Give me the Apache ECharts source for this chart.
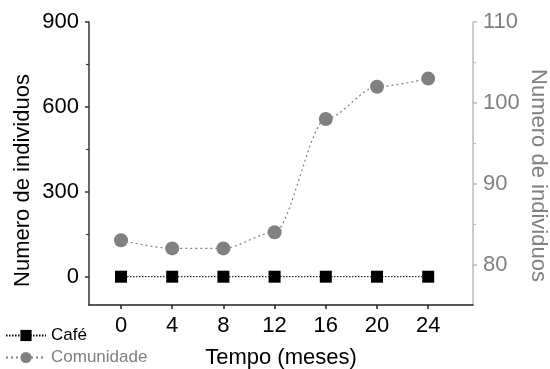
<!DOCTYPE html>
<html>
<head>
<meta charset="utf-8">
<script src="https://cdn.jsdelivr.net/npm/echarts@6/dist/echarts.min.js"></script>
<style>
  html, body { margin: 0; padding: 0; background: #fff; }
  #chart { width: 550px; height: 369px; }
</style>
</head>
<body>
<div id="chart"></div>
<script>
  // dados
  const meses = [0, 4, 8, 12, 16, 20, 24]
  const cafe = [0, 0, 0, 0, 0, 0, 0]
  const comunidade = [83, 82, 82, 84, 98, 102, 103]
  const ticksEsq = [0, 300, 600, 900]
  const minorEsq = [150, 450, 750]
  const ticksDir = [80, 90, 100, 110]
  const minorDir = [85, 95, 105]

  const FONT = '"Liberation Sans", Arial, sans-serif'
  const GRAY = '#808080'

  let chart = echarts.init(document.getElementById('chart'))

  chart.setOption({
    animation: false,
    textStyle: { fontFamily: FONT },
    grid: { left: 89, right: 77, top: 22, bottom: 64, outerBoundsMode: 'none', containLabel: false },
    legend: {
      orient: 'vertical',
      left: 5,
      top: 327,
      itemWidth: 40,
      itemHeight: 14,
      itemGap: 5,
      padding: 0,
      textStyle: { fontFamily: FONT, fontSize: 17 },
      data: [
        { name: 'Café', textStyle: { color: '#000' } },
        { name: 'Comunidade', textStyle: { color: GRAY } }
      ]
    },
    xAxis: {
      type: 'value',
      min: -2.5,
      max: 27.5,
      name: 'Tempo (meses)',
      nameLocation: 'middle',
      nameGap: 42,
      nameTextStyle: { color: '#000', fontSize: 22, fontFamily: FONT },
      splitLine: { show: false },
      axisLine: { onZero: false, lineStyle: { color: '#222', width: 1.5 } },
      axisTick: { customValues: meses, length: 4, lineStyle: { color: '#222', width: 1.5 } },
      axisLabel: { customValues: meses, color: '#000', fontSize: 22, margin: 10 }
    },
    yAxis: [
      {
        type: 'value',
        position: 'left',
        min: -100,
        max: 900,
        name: 'Numero de individuos',
        nameLocation: 'middle',
        nameGap: 55,
        nameMoveOverlap: false,
        nameTextStyle: { color: '#000', fontSize: 22, fontFamily: FONT, padding: [0, 34, 0, 0] },
        splitLine: { show: false },
        axisLine: { show: true, onZero: false, lineStyle: { color: '#333', width: 1.5 } },
        axisTick: { customValues: ticksEsq, length: 4, lineStyle: { color: '#333', width: 1.5 } },
        axisLabel: { customValues: ticksEsq, color: '#000', fontSize: 22, margin: 10 }
      },
      {
        // marcas menores do eixo esquerdo
        type: 'value',
        position: 'left',
        min: -100,
        max: 900,
        splitLine: { show: false },
        axisLine: { show: false, onZero: false },
        axisTick: { customValues: minorEsq, length: 3, lineStyle: { color: '#333', width: 1.2 } },
        axisLabel: { show: false }
      },
      {
        type: 'value',
        position: 'right',
        min: 75,
        max: 110,
        name: 'Numero de individuos',
        nameLocation: 'middle',
        nameRotate: -90,
        nameGap: 54,
        nameMoveOverlap: false,
        nameTextStyle: { color: GRAY, fontSize: 22, fontFamily: FONT, padding: [0, 0, 0, 24] },
        splitLine: { show: false },
        axisLine: { show: true, onZero: false, lineStyle: { color: '#bbb', width: 1.5 } },
        axisTick: { customValues: ticksDir, length: 4, lineStyle: { color: '#bbb', width: 1.5 } },
        axisLabel: { customValues: ticksDir, color: GRAY, fontSize: 22, margin: 10 }
      },
      {
        // marcas menores do eixo direito
        type: 'value',
        position: 'right',
        min: 75,
        max: 110,
        splitLine: { show: false },
        axisLine: { show: false, onZero: false },
        axisTick: { customValues: minorDir, length: 3, lineStyle: { color: '#bbb', width: 1.2 } },
        axisLabel: { show: false }
      }
    ],
    series: [
      {
        name: 'Café',
        type: 'line',
        yAxisIndex: 0,
        data: meses.map((m, i) => [m, cafe[i]]),
        symbol: 'rect',
        symbolSize: 12,
        itemStyle: { color: '#000' },
        lineStyle: { color: '#000', width: 1, type: [1.5, 1.5] },
        z: 3
      },
      {
        name: 'Comunidade',
        type: 'line',
        yAxisIndex: 2,
        data: meses.map((m, i) => [m, comunidade[i]]),
        smooth: 0.3,
        smoothMonotone: 'x',
        symbol: 'circle',
        symbolSize: 14,
        itemStyle: { color: GRAY },
        lineStyle: { color: GRAY, width: 1.2, type: [2, 3] },
        z: 2
      }
    ]
  })
</script>
</body>
</html>
